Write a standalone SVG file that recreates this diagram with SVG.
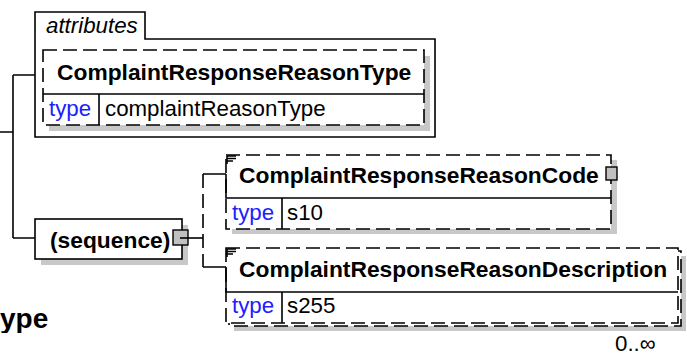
<svg xmlns="http://www.w3.org/2000/svg" width="687" height="356" viewBox="0 0 687 356">
<style>
.ln{stroke:#000;stroke-width:1.6;fill:none}
.dash{stroke:#000;stroke-width:1.6;fill:#fff;stroke-dasharray:14 6}
.dl{stroke:#000;stroke-width:1.6;fill:none;stroke-dasharray:14 6}
.box{stroke:#000;stroke-width:1.6;fill:#fff}
.sh{fill:#c8c8c8}
.nm{font-family:"Liberation Sans",Arial,sans-serif;font-weight:bold;font-size:22.8px;fill:#000}
.tx{font-family:"Liberation Sans",Arial,sans-serif;font-size:22.3px;fill:#000}
.kw{font-family:"Liberation Sans",Arial,sans-serif;font-size:22.3px;fill:#2020ff}
.it{font-family:"Liberation Sans",Arial,sans-serif;font-style:italic;font-size:22.3px;fill:#000}
.sq{fill:#c0c0c0;stroke:#000;stroke-width:1.4}
</style>
<defs>
<clipPath id="clipT"><rect x="0" y="290" width="120" height="43"/></clipPath>
</defs>
<rect width="687" height="356" fill="#fff"/>

<g id="connectors">
<path class="ln" d="M0,132 H13 M13,75 V238 M13,75 H35 M13,238 H35"/>
<path class="ln" d="M188,238 H203"/>
<path class="dl" d="M203,174 V267"/>
<path class="ln" d="M203,174 H226 M203,267 H226"/>
</g>

<g id="attributes">
<path class="box" d="M35,137 V12 H145 V39 H435 V137 Z"/>
<text class="it" x="46" y="33">attributes</text>
<g id="attr-ComplaintResponseReasonType">
<rect class="sh" x="49" y="56" width="381" height="75"/>
<rect class="dash" x="43" y="50" width="381" height="75"/>
<path class="ln" d="M43,94 H424 M99,94 V125"/>
<text class="nm" x="57" y="80">ComplaintResponseReasonType</text>
<text class="kw" x="49" y="116">type</text>
<text class="tx" x="105" y="116">complaintReasonType</text>
</g>
</g>

<g id="sequence">
<rect class="sh" x="41" y="225" width="147" height="40"/>
<rect class="box" x="35" y="219" width="147" height="40"/>
<text class="nm" x="50" y="248">(sequence)</text>
<rect class="sq" x="173" y="230" width="15" height="15"/>
<path class="ln" d="M180,238 H188"/>
</g>

<g id="ComplaintResponseReasonCode">
<rect class="sh" x="232" y="160" width="385" height="74"/>
<rect class="dash" x="226" y="155" width="385" height="74"/>
<path class="ln" d="M226,174 V198 H611 M282,198 V229"/>
<path class="ln" stroke-width="1.2" d="M227,156 H236 M227,158.5 H236 M227,161 H233 M227,156 V164"/>
<text class="nm" x="239" y="183">ComplaintResponseReasonCode</text>
<text class="kw" x="232" y="220">type</text>
<text class="tx" x="287" y="220">s10</text>
<rect class="sq" x="606" y="167" width="11" height="13"/>
</g>

<g id="ComplaintResponseReasonDescription">
<rect class="sh" x="234" y="256" width="452" height="75"/>
<rect class="dash" x="229" y="251" width="452" height="75"/>
<rect class="dash" x="226" y="248" width="452" height="75"/>
<path class="ln" d="M226,267 V292 H678 M282,292 V323"/>
<path class="ln" stroke-width="1.2" d="M227,249 H236 M227,251.5 H236 M227,254 H233 M227,249 V257"/>
<text class="nm" x="239" y="277">ComplaintResponseReasonDescription</text>
<text class="kw" x="232" y="313">type</text>
<text class="tx" x="287" y="313">s255</text>
<text class="tx" x="615" y="351">0..∞</text>
</g>

<text class="nm" x="0" y="328" style="font-size:28px" clip-path="url(#clipT)">ype</text>
</svg>
